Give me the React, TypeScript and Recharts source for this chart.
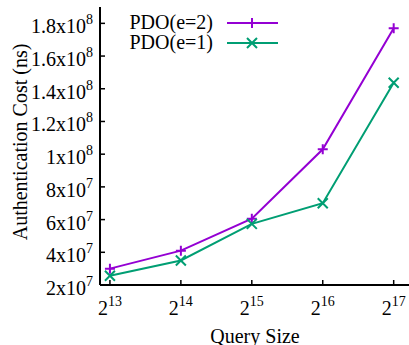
import React from "react";
import { LineChart, Line, XAxis, YAxis } from "recharts";

// query size as powers of two
const sizeExponents = [13, 14, 15, 16, 17];
const pdoE2 = [3.0e7, 4.1e7, 6.05e7, 1.03e8, 1.77e8];
const pdoE1 = [2.57e7, 3.5e7, 5.74e7, 7.0e7, 1.437e8];

const yTicks = [2e7, 4e7, 6e7, 8e7, 1e8, 1.2e8, 1.4e8, 1.6e8, 1.8e8];
const yTickMantissa = ["2", "4", "6", "8", "1", "1.2", "1.4", "1.6", "1.8"];
const yTickExponent = ["7", "7", "7", "7", "8", "8", "8", "8", "8"];

const seriesNames = ["PDO(e=2)", "PDO(e=1)"];

const PURPLE = "#9400d3";
const GREEN = "#009e73";
const FONT = "'Liberation Serif', 'Times New Roman', serif";

const data = sizeExponents.map((e, i) => ({
  exp: e,
  e2: pdoE2[i],
  e1: pdoE1[i],
}));

const plusPath = (x: number, y: number) =>
  `M${x - 5},${y}h10M${x},${y - 5}v10`;
const crossPath = (x: number, y: number) =>
  `M${x - 5},${y - 5}l10,10M${x - 5},${y + 5}l10,-10`;

const YTick = (props: any) => {
  const { x, y, payload } = props;
  const i = yTicks.indexOf(payload.value);
  return (
    <g>
      <line x1={x} y1={y} x2={x + 5} y2={y} stroke="#000" strokeWidth={1.5} />
      <text x={x - 7} y={y + 10} textAnchor="end" fontSize={20} fontFamily={FONT} fill="#000">
        {yTickMantissa[i]}x10
        <tspan fontSize={14} dy={-9}>
          {yTickExponent[i]}
        </tspan>
      </text>
    </g>
  );
};

const XTick = (props: any) => {
  const { x, y, payload } = props;
  return (
    <g>
      <line x1={x} y1={y} x2={x} y2={y - 5} stroke="#000" strokeWidth={1.5} />
      <text x={x} y={y + 30} textAnchor="middle" fontSize={20} fontFamily={FONT} fill="#000">
        2
        <tspan fontSize={14} dy={-9}>
          {payload.value}
        </tspan>
      </text>
    </g>
  );
};

const TopTick = (props: any) => {
  const { x, y } = props;
  return <line x1={x} y1={y} x2={x} y2={y + 5} stroke="#000" strokeWidth={1.5} />;
};

const PlusDot = (props: any) => {
  const { cx, cy, index } = props;
  return <path key={`p-${index}`} d={plusPath(cx, cy)} stroke={PURPLE} strokeWidth={2} fill="none" />;
};

const CrossDot = (props: any) => {
  const { cx, cy, index } = props;
  return <path key={`c-${index}`} d={crossPath(cx, cy)} stroke={GREEN} strokeWidth={2} fill="none" />;
};

export default function App() {
  return (
    <div
      style={{
        position: "absolute",
        left: 0,
        top: 0,
        width: 409,
        height: 345,
        overflow: "hidden",
        background: "#fff",
      }}
    >
      <LineChart
        width={412}
        height={345}
        data={data}
        margin={{ top: 7, right: 2, left: 0, bottom: 0 }}
      >
        <XAxis
          dataKey="exp"
          type="number"
          domain={[12.86, 17.23]}
          ticks={sizeExponents}
          height={60}
          tickSize={0}
          tickMargin={0}
          tick={<XTick />}
          axisLine={{ stroke: "#000", strokeWidth: 2 }}
          tickLine={false}
          label={{
            content: () => (
              <text x={255} y={343} textAnchor="middle" fontSize={20} fontFamily={FONT} fill="#000">
                Query Size
              </text>
            ),
          }}
        />
        <XAxis
          xAxisId="top"
          dataKey="exp"
          type="number"
          orientation="top"
          domain={[12.86, 17.23]}
          ticks={sizeExponents}
          height={0}
          tickSize={0}
          tickMargin={0}
          tick={<TopTick />}
          axisLine={{ stroke: "#000", strokeWidth: 2 }}
          tickLine={false}
        />
        <YAxis
          type="number"
          domain={[2e7, 1.9e8]}
          ticks={yTicks}
          width={100}
          tickSize={0}
          tickMargin={0}
          tick={<YTick />}
          axisLine={{ stroke: "#000", strokeWidth: 2 }}
          tickLine={false}
          allowDataOverflow
          label={{
            content: () => (
              <text
                transform="translate(27,142) rotate(-90)"
                textAnchor="middle"
                fontSize={20}
                fontFamily={FONT}
                fill="#000"
              >
                Authentication Cost (ns)
              </text>
            ),
          }}
        />
        <Line
          dataKey="e2"
          stroke={PURPLE}
          strokeWidth={2}
          dot={PlusDot}
          isAnimationActive={false}
        />
        <Line
          dataKey="e1"
          stroke={GREEN}
          strokeWidth={2}
          dot={CrossDot}
          isAnimationActive={false}
        />
      </LineChart>
      {/* legend, gnuplot style: right-aligned labels then sample */}
      <svg
        width={300}
        height={60}
        style={{ position: "absolute", left: 0, top: 0, pointerEvents: "none" }}
      >
        {seriesNames.map((name, i) => {
          const y = 23 + i * 20;
          const color = i === 0 ? PURPLE : GREEN;
          return (
            <g key={name}>
              <text x={213} y={y + 6} textAnchor="end" fontSize={20} fontFamily={FONT} fill="#000">
                {name}
              </text>
              <line x1={227} y1={y} x2={278} y2={y} stroke={color} strokeWidth={2} />
              <path d={i === 0 ? plusPath(252, y) : crossPath(252, y)} stroke={color} strokeWidth={2} fill="none" />
            </g>
          );
        })}
      </svg>
    </div>
  );
}
